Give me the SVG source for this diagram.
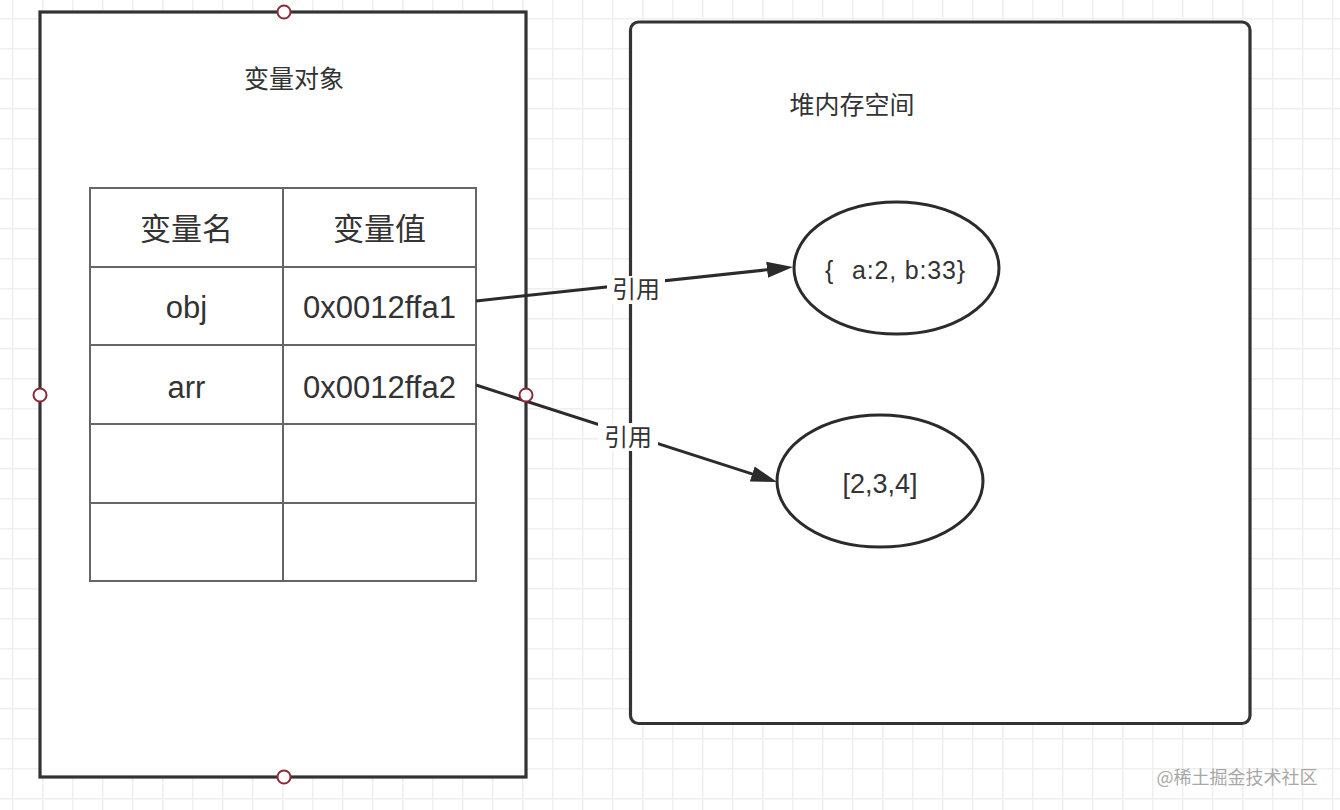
<svg xmlns="http://www.w3.org/2000/svg" width="1340" height="810" viewBox="0 0 1340 810">
  <defs>
    <pattern id="grid" x="12" y="18" width="30" height="30" patternUnits="userSpaceOnUse">
      <rect x="0" y="0" width="30" height="1.5" fill="#efefef"/>
      <rect x="0" y="0" width="1.5" height="30" fill="#efefef"/>
    </pattern>
    <marker id="arrow" markerUnits="userSpaceOnUse" markerWidth="28" markerHeight="18" refX="14" refY="8" orient="auto" viewBox="0 0 28 16">
      <path d="M0,0 L26,8 L0,16 Z" fill="#2b2b2b"/>
    </marker>
    <style>
      .box { fill: #ffffff; stroke: #333333; stroke-width: 3.2; }
      .cell { fill: none; stroke: #666666; stroke-width: 2; }
      .ell { fill: #ffffff; stroke: #2b2b2b; stroke-width: 3; }
      .handle { fill: #ffffff; stroke: #8a2a3a; stroke-width: 2; }
      .edge { fill: none; stroke: #2b2b2b; stroke-width: 3; marker-end: url(#arrow); }
      .cjk { font-family: "Noto Sans CJK SC", "Liberation Sans", sans-serif; fill: #333333; }
      .lat { font-family: "Liberation Sans", "Noto Sans CJK SC", sans-serif; fill: #333333; }
      .lblbg { fill: #ffffff; }
    </style>
  </defs>

  <rect x="0" y="0" width="1340" height="810" fill="#ffffff"/>
  <rect x="0" y="0" width="1340" height="810" fill="url(#grid)"/>

  <g id="var-object">
    <rect class="box" x="40" y="12" width="486" height="765"/>
    <text class="cjk" x="294" y="88" font-size="25" text-anchor="middle">变量对象</text>
  </g>

  <g id="var-table">
    <rect class="cell" x="90" y="188" width="386" height="393"/>
    <line class="cell" x1="283" y1="188" x2="283" y2="581"/>
    <line class="cell" x1="90" y1="267" x2="476" y2="267"/>
    <line class="cell" x1="90" y1="345" x2="476" y2="345"/>
    <line class="cell" x1="90" y1="424" x2="476" y2="424"/>
    <line class="cell" x1="90" y1="503" x2="476" y2="503"/>
    <text class="cjk" x="186.5" y="240" font-size="31" text-anchor="middle">变量名</text>
    <text class="cjk" x="379.5" y="240" font-size="31" text-anchor="middle">变量值</text>
    <text class="lat" x="186.5" y="318" font-size="31" text-anchor="middle">obj</text>
    <text class="lat" x="379.5" y="318" font-size="31" text-anchor="middle">0x0012ffa1</text>
    <text class="lat" x="186.5" y="398" font-size="31" text-anchor="middle">arr</text>
    <text class="lat" x="379.5" y="398" font-size="31" text-anchor="middle">0x0012ffa2</text>
  </g>

  <g id="heap">
    <rect class="box" x="630.5" y="22" width="619.5" height="701.5" rx="8" ry="8"/>
    <text class="cjk" x="852" y="114" font-size="25" text-anchor="middle">堆内存空间</text>
  </g>

  <g id="obj-node">
    <ellipse class="ell" cx="896.5" cy="268" rx="102.5" ry="66"/>
    <text class="lat" x="825" y="279" font-size="25"><tspan x="825">{</tspan><tspan x="852" textLength="113" lengthAdjust="spacing">a:2, b:33}</tspan></text>
  </g>

  <g id="arr-node">
    <ellipse class="ell" cx="880" cy="481" rx="103" ry="66"/>
    <text class="lat" x="880" y="493" font-size="27" text-anchor="middle">[2,3,4]</text>
  </g>

  <g id="connectors">
    <line class="edge" x1="476" y1="301" x2="781" y2="268.3"/>
    <line class="edge" x1="476" y1="385" x2="765.6" y2="478.3"/>
    <rect class="lblbg" x="607" y="276" width="58" height="28"/>
    <text class="cjk" x="636" y="298" font-size="24" text-anchor="middle">引用</text>
    <rect class="lblbg" x="598" y="423" width="60" height="28"/>
    <text class="cjk" x="628" y="446" font-size="24" text-anchor="middle">引用</text>
  </g>

  <g id="handles">
    <circle class="handle" cx="284" cy="12" r="6.5"/>
    <circle class="handle" cx="40" cy="395" r="6.5"/>
    <circle class="handle" cx="526" cy="395" r="6.5"/>
    <circle class="handle" cx="284" cy="777" r="6.5"/>
  </g>

  <g id="watermark">
    <text class="cjk" x="1237" y="784" font-size="18" style="fill:#a8a8a8" text-anchor="middle">@稀土掘金技术社区</text>
  </g>
</svg>
